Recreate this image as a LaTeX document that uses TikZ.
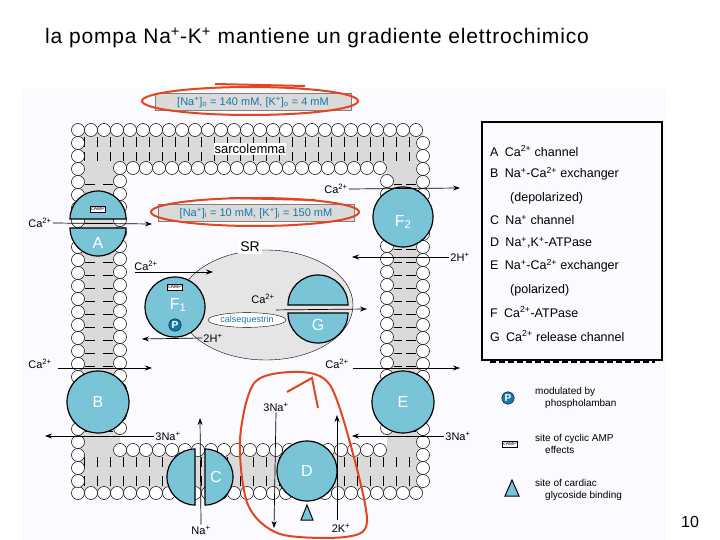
\documentclass[tikz,border=0pt]{standalone}
\usepackage{fontspec}
\setmainfont{Liberation Sans}
\usetikzlibrary{arrows.meta,shapes.geometric}
\definecolor{cellblue}{RGB}{122,196,216}
\definecolor{pblue}{RGB}{20,120,170}
\definecolor{bandgray}{RGB}{218,218,218}
\definecolor{redpen}{RGB}{225,70,30}
\tikzset{
  protein/.style={fill=cellblue,draw=black,line width=1.2pt},
  plabel/.style={text=white,font=\fontsize{16}{16}\selectfont},
  ion/.style={font=\fontsize{11}{11}\selectfont,inner sep=1pt},
  flow/.style={-{Stealth[length=7pt,width=5pt]},line width=0.7pt},
  lipid/.style={fill=white,draw=black,line width=0.5pt},
  legend/.style={anchor=west,font=\fontsize{12.5}{13}\selectfont,inner sep=0pt},
  camp/.style={draw=black,fill=white,font=\fontsize{5}{5}\selectfont,inner sep=1pt},
  redring/.style={draw=redpen,line width=2pt}
}
\begin{document}
\begin{tikzpicture}[x=1pt,y=-1pt]
    \useasboundingbox (0,0) rectangle (720,540);
    \fill[blue!2] (22,88) rectangle (665,540);

    \node[anchor=west,inner sep=0pt,font=\addfontfeatures{LetterSpace=4}\fontsize{21}{22}\selectfont] (title) at (45,38) {la pompa Na\textsuperscript{+}-K\textsuperscript{+} mantiene un gradiente elettrochimico};

    % membrane band and heads
    \fill[bandgray,even odd rule] (78,130) rectangle (423,493) (120,168) rectangle (387,450);
    \foreach \x in {84,97,...,420} {
        \draw (\x,137) -- (\x,147) (\x,161) -- (\x,152);
        \draw (\x,486) -- (\x,476) (\x,457) -- (\x,467);
    }
    \foreach \y in {184,197,...,440} {
        \draw (85,\y) -- (95,\y) (113,\y) -- (103,\y);
        \draw (416,\y) -- (406,\y) (394,\y) -- (402,\y);
    }
    \foreach \x in {78,91,...,423} {
        \draw[lipid] (\x,130) circle (6.5);
        \draw[lipid] (\x,493) circle (6.5);
    }
    \foreach \y in {143,156,...,490} {
        \draw[lipid] (78,\y) circle (6.5);
        \draw[lipid] (423,\y) circle (6.5);
    }
    \foreach \x in {120,133,...,387} {
        \draw[lipid] (\x,168) circle (6.5);
        \draw[lipid] (\x,450) circle (6.5);
    }
    \foreach \y in {181,194,...,440} {
        \draw[lipid] (120,\y) circle (6.5);
        \draw[lipid] (387,\y) circle (6.5);
    }
    \node[fill=white,inner sep=1pt,font=\fontsize{13}{13}\selectfont] (sarco) at (250,149) {sarcolemma};

    % concentrations
    \node[draw=gray,fill=bandgray,text=pblue,font=\fontsize{11}{11}\selectfont,minimum width=196pt] (out) at (253,102) {[Na\textsuperscript{+}]\textsubscript{o} = 140 mM, [K\textsuperscript{+}]\textsubscript{o} = 4 mM};
    \node[draw=gray,fill=bandgray,text=pblue,font=\fontsize{11}{11}\selectfont,minimum width=196pt] (in) at (256,213) {[Na\textsuperscript{+}]\textsubscript{i} = 10 mM, [K\textsuperscript{+}]\textsubscript{i} = 150 mM};

    % SR
    \draw[fill=bandgray!70] (266,305) ellipse [x radius=87,y radius=55];
    \node[fill=white,inner sep=2pt,font=\fontsize{14}{14}\selectfont] (sr) at (250,247) {SR};
    \node[draw,fill=white,ellipse,inner sep=1pt,text=pblue,font=\fontsize{9}{9}\selectfont] (calseq) at (247,320) {calsequestrin};

    % proteins
    \draw[protein] (70,219) arc[start angle=180,end angle=360,radius=28] -- cycle;
    \draw[protein] (126,228) arc[start angle=0,end angle=180,radius=28] -- cycle;
    \node[camp] (campA) at (98,209) {cAMP};
    \node[plabel] (A) at (98,243) {A};
    \draw[protein] (403,217) circle (30);
    \node[plabel] (F2) at (403,222) {F\textsubscript{2}};
    \draw[protein] (98,402) circle (31);
    \node[plabel] (B) at (98,402) {B};
    \draw[protein] (403,402) circle (31);
    \node[plabel] (E) at (403,402) {E};
    \draw[protein] (195,505) arc[start angle=90,end angle=270,radius=28] -- cycle;
    \draw[protein] (205,449) arc[start angle=270,end angle=450,radius=28] -- cycle;
    \node[plabel] (C) at (216,477) {C};
    \draw[protein] (307,471) circle (30);
    \node[plabel] (D) at (307,471) {D};
    \draw[draw=black,fill=cellblue,line width=1pt] (301,520) -- (307,505) -- (313,520) -- cycle;
    \draw[protein] (175,307) circle (30);
    \node[camp] (campF) at (175,287) {cAMP};
    \node[plabel] (F1) at (178,305) {F\textsubscript{1}};
    \node[circle,fill=pblue,draw=black,text=white,inner sep=1pt,font=\bfseries\fontsize{10}{10}\selectfont] (P) at (175,325) {P};
    \draw[protein] (288,305) arc[start angle=180,end angle=360,radius=30] -- cycle;
    \draw[protein] (348,313) arc[start angle=0,end angle=180,radius=30] -- cycle;
    \node[plabel] (G) at (318,325) {G};

    % ion movements
    \node[ion] (caA) at (40,223) {Ca\textsuperscript{2+}};
    \coordinate (caAend) at (152,224);
    \draw[flow] (caA.east) -- (caAend);
    \node[ion] (caF2) at (336,189) {Ca\textsuperscript{2+}};
    \coordinate (caF2end) at (460,188);
    \draw[flow] (caF2.east) -- (caF2end);
    \node[ion] (hF2) at (460,257) {2H\textsuperscript{+}};
    \coordinate (hF2end) at (352,257);
    \draw[flow] (hF2.west) -- (hF2end);
    \node[ion] (caF1) at (146,266) {Ca\textsuperscript{2+}};
    \coordinate (caF1end) at (213,272);
    \draw[flow] (135,272) -- (caF1end);
    \node[ion] (caG) at (263,299) {Ca\textsuperscript{2+}};
    \coordinate (caGend) at (367,309);
    \draw[flow] (caG.south east) ++(0,5) -- (caGend);
    \node[ion] (hF1) at (213,338) {2H\textsuperscript{+}};
    \coordinate (hF1end) at (142,339);
    \draw[flow] (hF1.west) -- (hF1end);
    \node[ion] (caB) at (40,364) {Ca\textsuperscript{2+}};
    \coordinate (caBend) at (152,368);
    \draw[flow] (58,368) -- (caBend);
    \node[ion] (naB) at (168,436) {3Na\textsuperscript{+}};
    \coordinate (naBend) at (45,436);
    \draw[flow] (naB.west) -- (naBend);
    \node[ion] (caE) at (337,364) {Ca\textsuperscript{2+}};
    \coordinate (caEend) at (460,368);
    \draw[flow] (353,368) -- (caEend);
    \node[ion] (naE) at (458,436) {3Na\textsuperscript{+}};
    \coordinate (naEend) at (352,436);
    \draw[flow] (naE.west) -- (naEend);
    \node[ion] (naC) at (201,530) {Na\textsuperscript{+}};
    \coordinate (naCend) at (200,418);
    \draw[flow] (naC.north) -- (naCend);
    \node[ion] (naD) at (276,407) {3Na\textsuperscript{+}};
    \coordinate (naDend) at (274,528);
    \draw[flow] (naD.south) -- (naDend);
    \node[ion] (kD) at (341,528) {2K\textsuperscript{+}};
    \coordinate (kDend) at (337,415);
    \draw[flow,line width=1pt] (337,520) -- (kDend);

    % red pen marks
    \draw[redring] (250,101) ellipse [x radius=108,y radius=14];
    \draw[redring] (215,84) -- (305,86);
    \draw[redring] (255,212) ellipse [x radius=104,y radius=14];
    \draw[redring] (230,198) -- (315,200);
    \draw[redring] plot[smooth cycle] coordinates {(300,372) (255,382) (240,440) (248,505) (280,534) (345,537) (367,522) (352,450) (330,385)};
    \draw[redring] (287,392) -- (312,378) -- (318,408);

    % legend
    \draw[line width=1.2pt] (482,122) rectangle (662,360);
    \node[legend] (lA) at (490,151) {A\enspace Ca\textsuperscript{2+} channel};
    \node[legend] (lB) at (490,174) {B\enspace Na\textsuperscript{+}-Ca\textsuperscript{2+} exchanger};
    \node[legend] (lB2) at (510,198) {(depolarized)};
    \node[legend] (lC) at (490,220) {C\enspace Na\textsuperscript{+} channel};
    \node[legend] (lD) at (490,243) {D\enspace Na\textsuperscript{+},K\textsuperscript{+}-ATPase};
    \node[legend] (lE) at (490,266) {E\enspace Na\textsuperscript{+}-Ca\textsuperscript{2+} exchanger};
    \node[legend] (lE2) at (510,290) {(polarized)};
    \node[legend] (lF) at (490,312) {F\enspace Ca\textsuperscript{2+}-ATPase};
    \node[legend] (lG) at (490,336) {G\enspace Ca\textsuperscript{2+} release channel};
    \draw[dashed,line width=1.5pt,dash pattern=on 6pt off 3pt] (490,362) -- (655,362);
    \node[circle,fill=pblue,draw=black,text=white,inner sep=1pt,font=\bfseries\fontsize{10}{10}\selectfont] (lP) at (508,398) {P};
    \node[legend,align=left,font=\fontsize{10}{12}\selectfont] (lPt) at (535,398) {modulated by\\\quad phospholamban};
    \node[camp] (lcamp) at (510,444) {cAMP};
    \node[legend,align=left,font=\fontsize{10}{12}\selectfont] (lct) at (535,444) {site of cyclic AMP\\\quad effects};
    \draw[draw=black,fill=cellblue,line width=1pt] (505,496) -- (512,480) -- (519,496) -- cycle;
    \node[legend,align=left,font=\fontsize{10}{12}\selectfont] (lgt) at (535,490) {site of cardiac\\\quad glycoside binding};

    \node[font=\fontsize{16}{16}\selectfont] (page) at (690,522) {10};
\end{tikzpicture}
\end{document}
